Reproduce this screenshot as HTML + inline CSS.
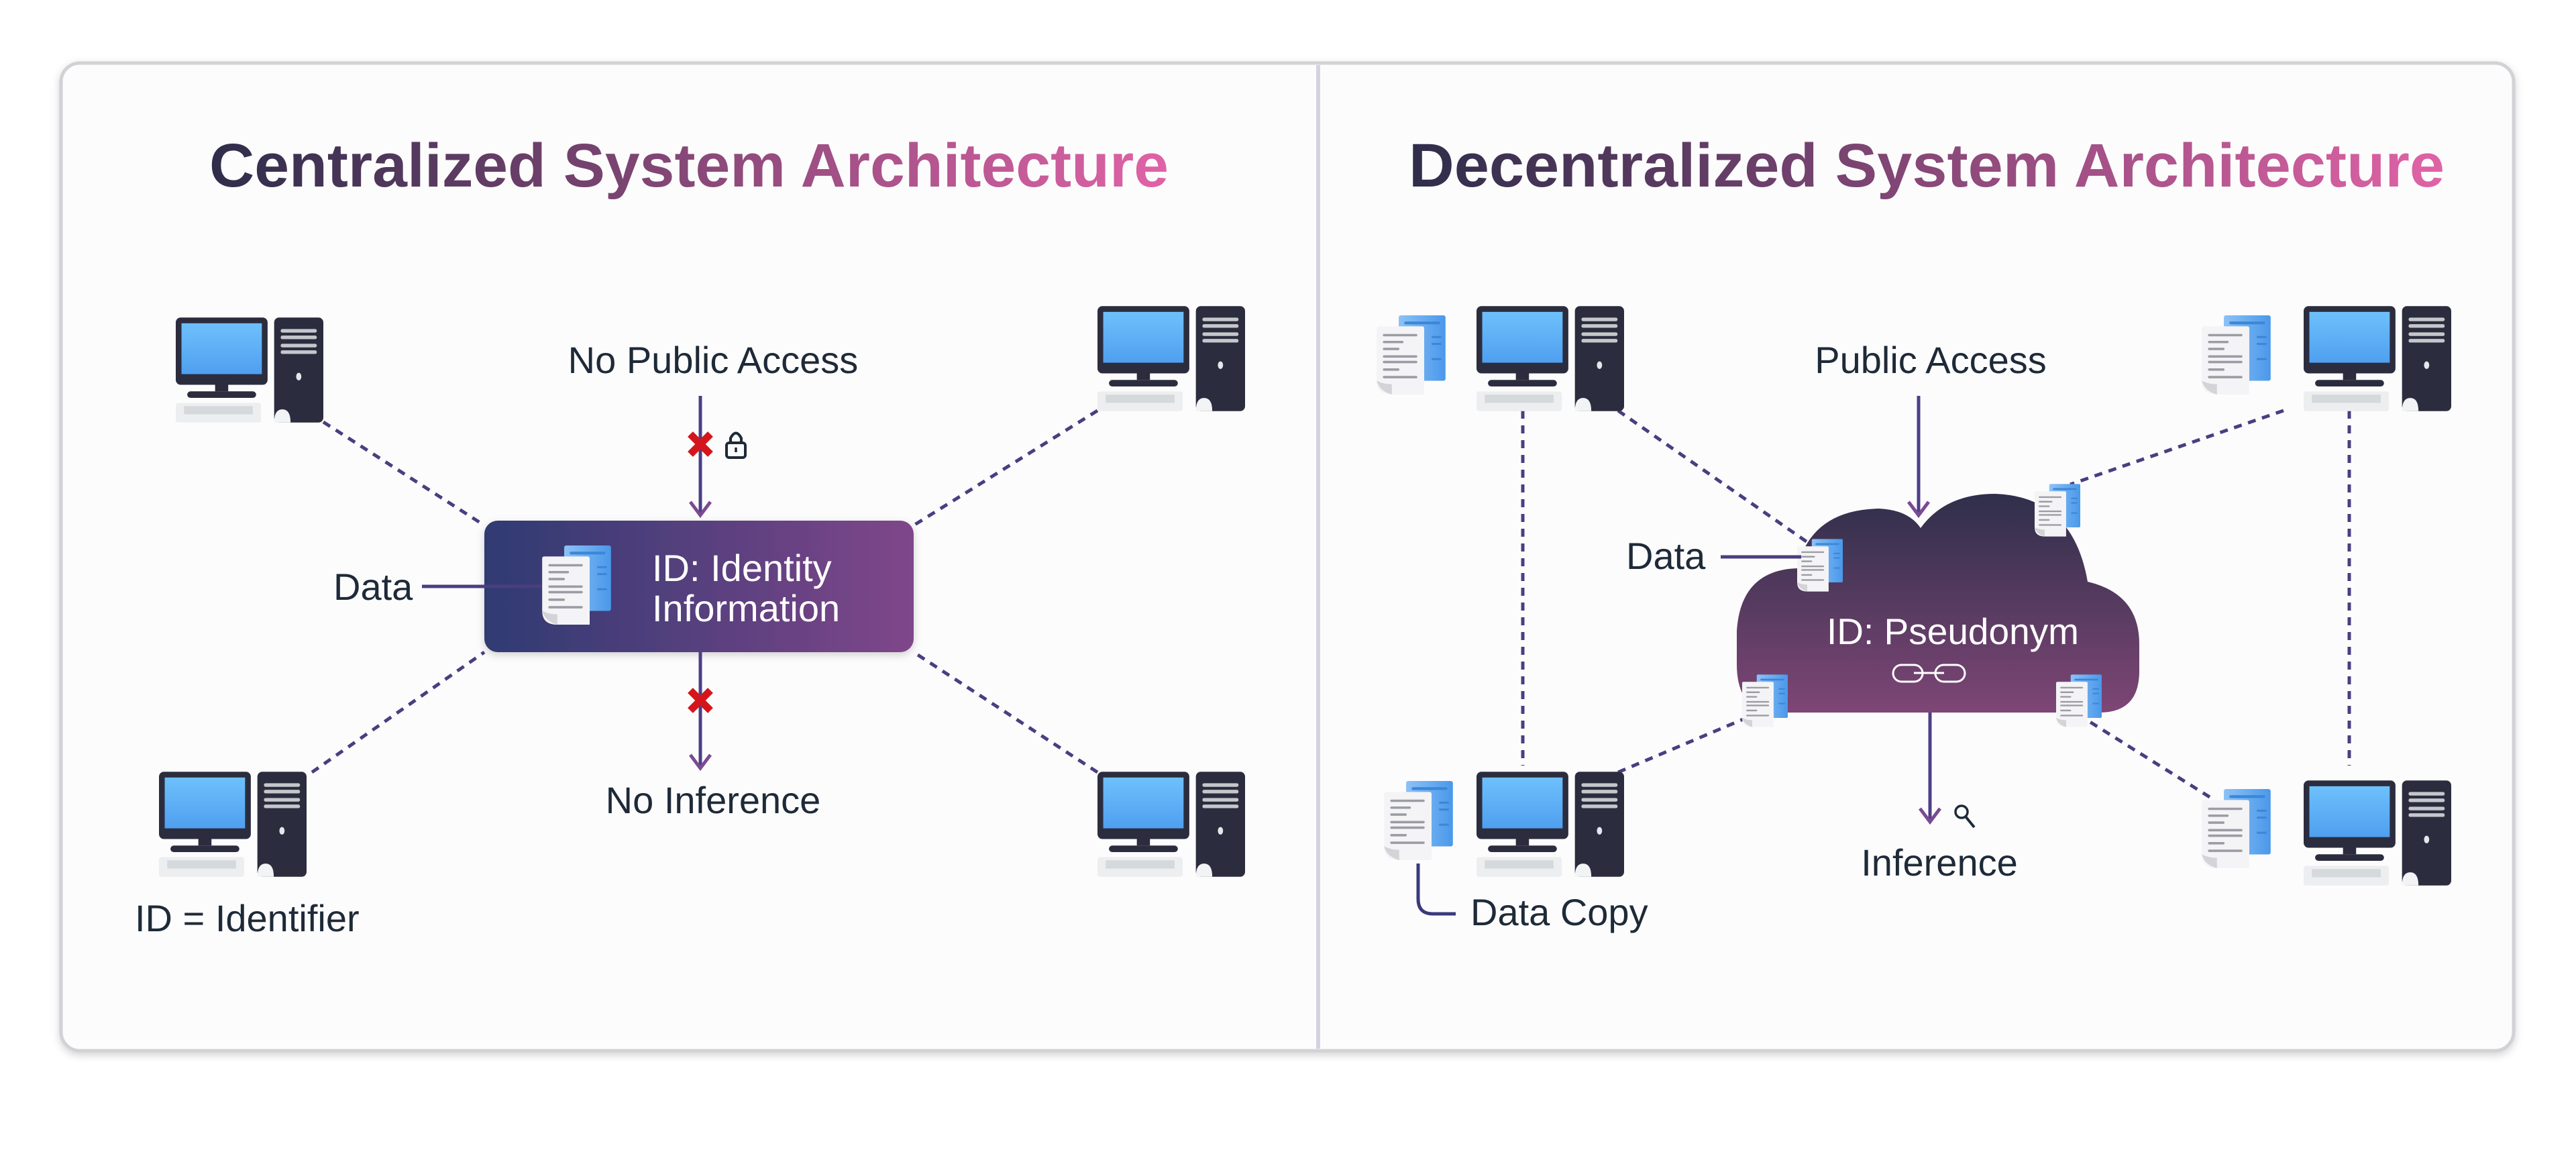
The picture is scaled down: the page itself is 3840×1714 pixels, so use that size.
<!DOCTYPE html>
<html><head><meta charset="utf-8"><style>
html,body{margin:0;padding:0;background:#fff;}
svg{display:block;}
text{font-family:"Liberation Sans",sans-serif;}
</style></head><body>
<svg width="3840" height="1714" viewBox="0 0 3840 1714" xmlns="http://www.w3.org/2000/svg">
<defs>
<linearGradient id="tg1" gradientUnits="userSpaceOnUse" x1="312" y1="0" x2="1742" y2="0"><stop offset="0" stop-color="#2e2d4a"/><stop offset="1" stop-color="#e063a6"/></linearGradient>
<linearGradient id="tg2" gradientUnits="userSpaceOnUse" x1="2100" y1="0" x2="3644" y2="0"><stop offset="0" stop-color="#2e2d4a"/><stop offset="1" stop-color="#e063a6"/></linearGradient>
<linearGradient id="box" x1="0" y1="0" x2="1" y2="0"><stop offset="0" stop-color="#2f3a72"/><stop offset="1" stop-color="#7f468a"/></linearGradient>
<linearGradient id="cloud" x1="0" y1="0" x2="0" y2="1"><stop offset="0" stop-color="#2f2f4a"/><stop offset="1" stop-color="#7e4676"/></linearGradient>
<linearGradient id="scr" x1="0" y1="0" x2="0" y2="1"><stop offset="0" stop-color="#6ec0fb"/><stop offset="1" stop-color="#4f9ff0"/></linearGradient>
<linearGradient id="bpage" x1="0" y1="0" x2="1" y2="0"><stop offset="0" stop-color="#8cc2f6"/><stop offset="1" stop-color="#4a98ea"/></linearGradient>
<filter id="sh" x="-5%" y="-5%" width="110%" height="115%"><feDropShadow dx="0" dy="4" stdDeviation="6" flood-color="#000" flood-opacity="0.18"/></filter>
<symbol id="pc" viewBox="0 0 90 64">
<rect x="0" y="0" width="56" height="41" rx="3" fill="#2b2d3e"/>
<rect x="3.5" y="3.5" width="49" height="31" fill="url(#scr)"/>
<rect x="24" y="41" width="8" height="4" fill="#2b2d3e"/>
<rect x="7" y="45" width="42" height="4" rx="2" fill="#2b2d3e"/>
<rect x="0" y="52" width="52" height="12" rx="1.5" fill="#eceef0"/>
<rect x="5" y="54" width="42" height="5" fill="#d6d9dc"/>
<rect x="60" y="0" width="30" height="64" rx="3" fill="#2b2d3e"/>
<rect x="64" y="7" width="22" height="2.2" rx="1" fill="#c4c7cc"/>
<rect x="64" y="11" width="22" height="2.2" rx="1" fill="#c4c7cc"/>
<rect x="64" y="16" width="22" height="2.2" rx="1" fill="#c4c7cc"/>
<rect x="64" y="20" width="22" height="2.2" rx="1" fill="#c4c7cc"/>
<ellipse cx="75" cy="36" rx="1.6" ry="2.3" fill="#e6e7ea"/>
<path d="M60 64 Q60 56 65 56 Q70 56 70 64Z" fill="#f2f3f5"/>
</symbol>
<symbol id="doc" viewBox="0 0 100 115">
<rect x="32" y="0" width="68" height="95" rx="3" fill="url(#bpage)"/>
<rect x="40" y="9" width="52" height="4" rx="2" fill="#3b86d8"/>
<rect x="80" y="30" width="14" height="3" fill="#3b86d8"/><rect x="80" y="40" width="14" height="3" fill="#3b86d8"/><rect x="80" y="62" width="14" height="3" fill="#3b86d8"/>
<path d="M0 19 Q0 16 3 16 L66 16 Q69 16 69 19 L69 115 L22 115 Q0 115 0 95Z" fill="#f4f4f6"/>
<path d="M0 95 Q4 110 22 115 L22 100 Q10 100 0 95Z" fill="#d3d3d8"/>
<g fill="#9c9ca4">
<rect x="9" y="27" width="50" height="3.5" rx="1.7"/>
<rect x="9" y="37" width="30" height="3.5" rx="1.7"/>
<rect x="9" y="47" width="24" height="3.5" rx="1.7"/>
<rect x="9" y="58" width="50" height="3.5" rx="1.7"/>
<rect x="9" y="66" width="50" height="3.5" rx="1.7"/>
<rect x="9" y="77" width="24" height="3.5" rx="1.7"/>
<rect x="9" y="88" width="50" height="3.5" rx="1.7"/>
</g>
</symbol>
</defs>

<!-- card -->
<rect x="91" y="94" width="3656" height="1472" rx="28" fill="#fdfcfd" stroke="#d2d2d6" stroke-width="5" filter="url(#sh)"/>
<rect x="1962" y="97" width="6" height="1466" fill="#d6d3e0"/>

<!-- titles -->
<text x="312" y="278" font-size="92" font-weight="bold" fill="url(#tg1)" textLength="1430" lengthAdjust="spacingAndGlyphs">Centralized  System Architecture</text>
<text x="2100" y="278" font-size="92" font-weight="bold" fill="url(#tg2)" textLength="1544" lengthAdjust="spacingAndGlyphs">Decentralized  System Architecture</text>

<!-- LEFT dashed -->
<g stroke="#4a3e80" stroke-width="5" stroke-dasharray="12 10" fill="none">
<line x1="482" y1="629" x2="722" y2="783"/>
<line x1="1636" y1="612" x2="1362" y2="783"/>
<line x1="465" y1="1151" x2="722" y2="972"/>
<line x1="1636" y1="1151" x2="1362" y2="972"/>
</g>
<use href="#pc" x="262" y="473" width="220" height="157"/>
<use href="#pc" x="237" y="1150" width="220" height="157"/>
<use href="#pc" x="1636" y="456" width="220" height="157"/>
<use href="#pc" x="1636" y="1150" width="220" height="157"/>

<!-- center box -->
<rect x="722" y="776" width="640" height="196" rx="20" fill="url(#box)" filter="url(#sh)"/>
<line x1="629" y1="874" x2="810" y2="874" stroke="#4a3e80" stroke-width="5"/>
<use href="#doc" x="808" y="813" width="103" height="118"/>
<text x="972" y="866" font-size="56" fill="#fff">ID: Identity</text>
<text x="972" y="926" font-size="56" fill="#fff">Information</text>

<text x="1063" y="556" font-size="56" fill="#1e2a38" text-anchor="middle">No Public Access</text>
<line x1="1044" y1="590" x2="1044" y2="768" stroke="#4d3f88" stroke-width="5"/>
<path d="M1029 748 L1044 768 L1059 748" fill="none" stroke="#7a4a92" stroke-width="5"/>
<path d="M1029 647 L1059 677 M1059 647 L1029 677" stroke="#d4161c" stroke-width="11"/>
<rect x="1083" y="660" width="28" height="22" rx="4" fill="none" stroke="#1e2a38" stroke-width="4"/>
<path d="M1089 660 V653 Q1097 638 1105 653 V660" fill="none" stroke="#1e2a38" stroke-width="4"/>
<line x1="1097" y1="667" x2="1097" y2="674" stroke="#1e2a38" stroke-width="3.5"/>

<line x1="1044" y1="972" x2="1044" y2="1145" stroke="#4d3f88" stroke-width="5"/>
<path d="M1029 1125 L1044 1145 L1059 1125" fill="none" stroke="#7a4a92" stroke-width="5"/>
<path d="M1029 1029 L1059 1059 M1059 1029 L1029 1059" stroke="#d4161c" stroke-width="11"/>
<text x="1063" y="1212" font-size="56" fill="#1e2a38" text-anchor="middle">No Inference</text>

<text x="497" y="894" font-size="56" fill="#1e2a38">Data</text>
<text x="201" y="1388" font-size="56" fill="#1e2a38">ID = Identifier</text>

<!-- RIGHT dashed -->
<g stroke="#4a3e80" stroke-width="5" stroke-dasharray="12 10" fill="none">
<line x1="2270" y1="612" x2="2270" y2="1141"/>
<line x1="3502" y1="612" x2="3502" y2="1141"/>
<line x1="2412" y1="612" x2="2694" y2="808"/>
<line x1="3404" y1="612" x2="3086" y2="722"/>
<line x1="2412" y1="1151" x2="2615" y2="1065"/>
<line x1="3294" y1="1188" x2="3098" y2="1065"/>
</g>

<!-- cloud -->
<path d="M2650 1062 Q2589 1062 2589 990 L2589 940 Q2595 850 2679 847 Q2700 760 2801 758 Q2845 760 2863 787 Q2900 736 2974 736 Q3090 740 3112 867 Q3189 885 3189 960 L3189 1000 Q3189 1062 3130 1062 Z" fill="url(#cloud)"/>
<text x="2911" y="960" font-size="55" fill="#fff" text-anchor="middle">ID: Pseudonym</text>
<rect x="2822" y="991" width="44" height="25" rx="12.5" fill="none" stroke="#fff" stroke-width="3"/>
<rect x="2885" y="991" width="44" height="25" rx="12.5" fill="none" stroke="#fff" stroke-width="3"/>
<line x1="2853" y1="1003" x2="2898" y2="1003" stroke="#fff" stroke-width="3"/>

<use href="#doc" x="2679" y="802" width="68" height="81"/>
<use href="#doc" x="3033" y="720" width="68" height="81"/>
<use href="#doc" x="2597" y="1004" width="68" height="81"/>
<use href="#doc" x="3065" y="1004" width="68" height="81"/>

<use href="#pc" x="2201" y="456" width="220" height="157"/>
<use href="#pc" x="3434" y="456" width="220" height="157"/>
<use href="#pc" x="2201" y="1150" width="220" height="157"/>
<use href="#pc" x="3434" y="1163" width="220" height="157"/>
<use href="#doc" x="2052" y="470" width="103" height="118"/>
<use href="#doc" x="3282" y="470" width="103" height="118"/>
<use href="#doc" x="2063" y="1164" width="103" height="118"/>
<use href="#doc" x="3282" y="1176" width="103" height="118"/>

<text x="2878" y="556" font-size="56" fill="#1e2a38" text-anchor="middle">Public Access</text>
<line x1="2860" y1="590" x2="2860" y2="768" stroke="#4d3f88" stroke-width="5"/>
<path d="M2845 748 L2860 768 L2875 748" fill="none" stroke="#7a4a92" stroke-width="5"/>

<text x="2424" y="848" font-size="56" fill="#1e2a38">Data</text>
<line x1="2565" y1="830" x2="2685" y2="830" stroke="#4a3e80" stroke-width="5"/>

<line x1="2877" y1="1062" x2="2877" y2="1225" stroke="#4d3f88" stroke-width="5"/>
<path d="M2862 1205 L2877 1225 L2892 1205" fill="none" stroke="#7a4a92" stroke-width="5"/>
<circle cx="2924" cy="1210" r="9" fill="none" stroke="#1e2a38" stroke-width="3.5"/>
<line x1="2930" y1="1217" x2="2943" y2="1233" stroke="#1e2a38" stroke-width="4"/>
<text x="2891" y="1305" font-size="56" fill="#1e2a38" text-anchor="middle">Inference</text>

<path d="M2114 1287 L2114 1340 Q2114 1362 2136 1362 L2170 1362" fill="none" stroke="#3a3a7a" stroke-width="5"/>
<text x="2192" y="1379" font-size="56" fill="#1e2a38">Data Copy</text>
</svg>
</body></html>
